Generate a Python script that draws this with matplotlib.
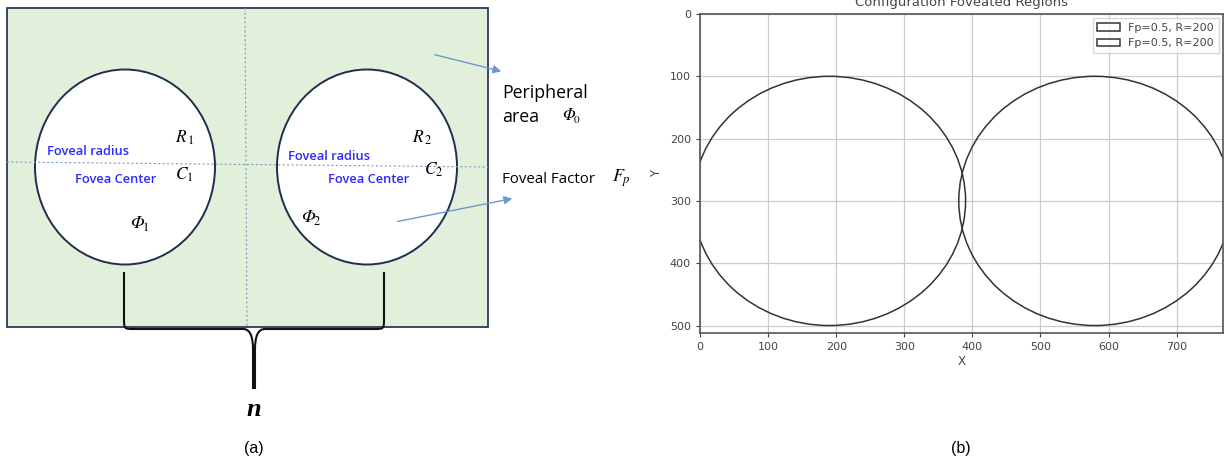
import matplotlib
matplotlib.use("Agg")
import matplotlib.pyplot as plt
from matplotlib.patches import Rectangle, Ellipse, Circle, FancyArrowPatch, PathPatch
from matplotlib.path import Path

plt.rcParams['mathtext.fontset'] = 'stix'

# panel (b) data: foveated regions
region_cx = [190, 580]
region_cy = [300, 300]
region_r = [200, 200]
region_fp = [0.5, 0.5]
x_ticks = [0, 100, 200, 300, 400, 500, 600, 700]
y_ticks = [0, 100, 200, 300, 400, 500]
img_w, img_h = 768, 512

# panel (a) labels
blue_labels = ["Foveal radius", "Fovea Center"]

fig = plt.figure(figsize=(12.24, 4.63), dpi=100)

# ---- (a) schematic, drawn in pixel coords ----
ax = fig.add_axes([0, 0, 1, 1])
ax.set_xlim(0, 1224)
ax.set_ylim(463, 0)
ax.axis('off')

ax.add_patch(Rectangle((7, 8), 481, 319, facecolor='#e2efda', edgecolor='#2b3a55', lw=1.3))
ax.plot([245, 247], [8, 327], ls=(0, (2, 2)), color='#7f9fbf', lw=0.8)

for cx in [125, 367]:
    ax.add_patch(Ellipse((cx, 167), 180, 195, facecolor='white', edgecolor='#1f2d50', lw=1.4))
ax.plot([7, 488], [162, 167], ls=(0, (2, 2)), color='#7f9fbf', lw=0.8)

lab = dict(family='Open Sans', weight='semibold', color='#2b2bff', fontsize=9.3, va='baseline')
ax.text(47, 155, blue_labels[0], **lab)
ax.text(75, 183, blue_labels[1], **lab)
ax.text(288, 160, blue_labels[0], **lab)
ax.text(328, 183, blue_labels[1], **lab)


def phi(x, y, sub, size=13):
    # italic capital phi with an upright subscript
    ax.text(x, y, '\u03a6', family='STIXGeneral', style='italic', fontsize=size, va='baseline')
    ax.text(x + size * 0.95, y + 3, sub, family='STIXGeneral', fontsize=size * 0.68, va='baseline')


m = dict(fontsize=12.5, va='baseline')
ax.text(175, 143, r'$R_{\,1}$', **m)
ax.text(175, 180, r'$C_1$', **m)
phi(130, 228, '1')
ax.text(412, 143, r'$R_{\,2}$', **m)
ax.text(424, 175, r'$C_2$', **m)
phi(301, 222, '2')

ax.text(502, 98, "Peripheral", family='Open Sans', fontsize=12.8, va='baseline')
ax.text(502, 122, "area", family='Open Sans', fontsize=12.8, va='baseline')
phi(562, 120, '0', size=12)
ax.text(502, 183, "Foveal Factor", family='Open Sans', fontsize=10.8, va='baseline')
ax.text(612, 182, r'$F_p$', fontsize=13, va='baseline')

arr = dict(arrowstyle='-|>', mutation_scale=12, color='#6f97d0', lw=1)
ax.add_patch(FancyArrowPatch((432, 54), (504, 72), **arr))
ax.add_patch(FancyArrowPatch((395, 222), (515, 198), **arr))

# brace
verts = [(124, 272), (124, 318),
         (124, 329), (124, 329), (134, 329),
         (243, 329),
         (250, 329), (253, 336), (253, 350),
         (253, 388), (255, 388), (255, 350),
         (255, 336), (258, 329), (265, 329),
         (374, 329),
         (384, 329), (384, 329), (384, 318),
         (384, 272)]
codes = [Path.MOVETO, Path.LINETO,
         Path.CURVE4, Path.CURVE4, Path.CURVE4,
         Path.LINETO,
         Path.CURVE4, Path.CURVE4, Path.CURVE4,
         Path.LINETO, Path.LINETO, Path.LINETO,
         Path.CURVE4, Path.CURVE4, Path.CURVE4,
         Path.LINETO,
         Path.CURVE4, Path.CURVE4, Path.CURVE4,
         Path.LINETO]
ax.add_patch(PathPatch(Path(verts, codes), facecolor='none', edgecolor='#111111', lw=1.5))

ax.text(254, 409, 'n', family='Liberation Serif', style='italic', weight='bold',
        fontsize=19, ha='center', va='center')
ax.text(254, 449, '(a)', family='Liberation Sans', fontsize=11.5, ha='center', va='center')
ax.text(961, 449, '(b)', family='Liberation Sans', fontsize=11.5, ha='center', va='center')

# ---- (b) configuration plot ----
axb = fig.add_axes([700 / 1224, 1 - 333 / 463, 523 / 1224, 319 / 463])
for cx, cy, r, fp in zip(region_cx, region_cy, region_r, region_fp):
    axb.add_patch(Circle((cx, cy), r, fill=False, edgecolor='#333333', lw=1.1,
                         label=f'Fp={fp}, R={r}'))
axb.set_xlim(0, img_w)
axb.set_ylim(img_h, 0)
axb.set_xticks(x_ticks)
axb.set_yticks(y_ticks)
axb.grid(True, color='#cccccc', lw=0.9)
axb.set_axisbelow(True)
axb.tick_params(labelsize=8, colors='#444444', length=3)
for s in axb.spines.values():
    s.set_color('#555555')
    s.set_linewidth(1.2)
axb.set_xlabel('X', fontsize=8.5, color='#444444', labelpad=2)
axb.set_ylabel('Y', fontsize=8.5, color='#444444', labelpad=5)
axb.set_title('Configuration Foveated Regions', fontsize=9.5, color='#444444', pad=6)
axb.legend(loc='upper right', fontsize=8, handlelength=2, borderaxespad=0.4,
           fancybox=False, edgecolor='#cccccc', labelcolor='#444444')

fig.savefig('out.png', dpi=100)
